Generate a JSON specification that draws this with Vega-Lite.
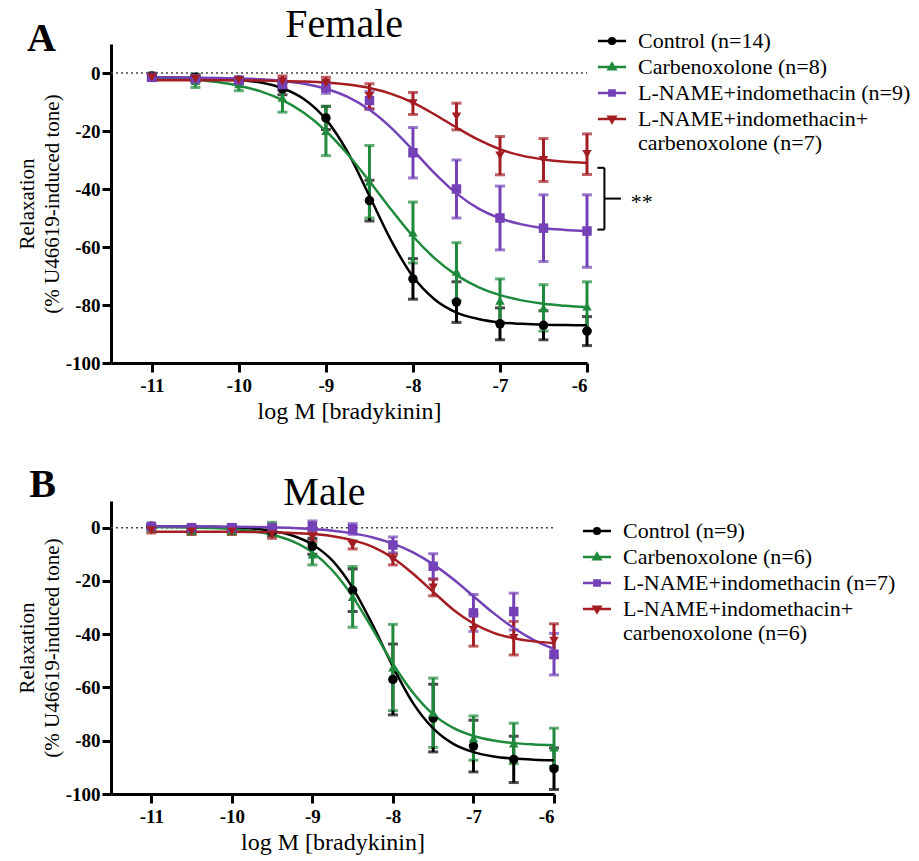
{
  "$schema": "https://vega.github.io/schema/vega-lite/v6.json",
  "padding": {"left": 16, "top": 5, "right": 5, "bottom": 5},
  "datasets": {
    "one": [{"k": 0}],
    "female": [
      {"x": -11, "group": "C", "y": -1.0, "sem": 0.5}, {"x": -10.5, "group": "C", "y": -1.5, "sem": 0.8}, {"x": -10, "group": "C", "y": -2.5, "sem": 1}, {"x": -9.5, "group": "C", "y": -5.5, "sem": 2}, {"x": -9, "group": "C", "y": -15.5, "sem": 4}, {"x": -8.5, "group": "C", "y": -44, "sem": 7}, {"x": -8, "group": "C", "y": -71, "sem": 7}, {"x": -7.5, "group": "C", "y": -79, "sem": 7}, {"x": -7, "group": "C", "y": -86.5, "sem": 5.5}, {"x": -6.5, "group": "C", "y": -87, "sem": 5}, {"x": -6, "group": "C", "y": -89, "sem": 5},
      {"x": -11, "group": "CBX", "y": -1, "sem": 1}, {"x": -10.5, "group": "CBX", "y": -2.7, "sem": 2.3}, {"x": -10, "group": "CBX", "y": -3.8, "sem": 2.3}, {"x": -9.5, "group": "CBX", "y": -8.5, "sem": 5}, {"x": -9, "group": "CBX", "y": -20, "sem": 8.5}, {"x": -8.5, "group": "CBX", "y": -37.5, "sem": 12.5}, {"x": -8, "group": "CBX", "y": -55, "sem": 10.5}, {"x": -7.5, "group": "CBX", "y": -68.5, "sem": 10}, {"x": -7, "group": "CBX", "y": -78.5, "sem": 7.5}, {"x": -6.5, "group": "CBX", "y": -81, "sem": 8}, {"x": -6, "group": "CBX", "y": -80.5, "sem": 8.5},
      {"x": -11, "group": "LI", "y": -1.5, "sem": 1}, {"x": -10.5, "group": "LI", "y": -2, "sem": 1}, {"x": -10, "group": "LI", "y": -2.5, "sem": 1}, {"x": -9.5, "group": "LI", "y": -4, "sem": 2}, {"x": -9, "group": "LI", "y": -5, "sem": 2}, {"x": -8.5, "group": "LI", "y": -9.5, "sem": 3}, {"x": -8, "group": "LI", "y": -27.5, "sem": 8.7}, {"x": -7.5, "group": "LI", "y": -40, "sem": 10}, {"x": -7, "group": "LI", "y": -50, "sem": 11}, {"x": -6.5, "group": "LI", "y": -53.5, "sem": 11.5}, {"x": -6, "group": "LI", "y": -54.5, "sem": 12.5},
      {"x": -11, "group": "LIC", "y": -1.5, "sem": 1}, {"x": -10.5, "group": "LIC", "y": -2, "sem": 1}, {"x": -10, "group": "LIC", "y": -2.5, "sem": 1}, {"x": -9.5, "group": "LIC", "y": -3, "sem": 2}, {"x": -9, "group": "LIC", "y": -3.5, "sem": 2}, {"x": -8.5, "group": "LIC", "y": -8, "sem": 4.3}, {"x": -8, "group": "LIC", "y": -10.5, "sem": 3.8}, {"x": -7.5, "group": "LIC", "y": -15, "sem": 4.6}, {"x": -7, "group": "LIC", "y": -28.5, "sem": 6.6}, {"x": -6.5, "group": "LIC", "y": -30, "sem": 7.4}, {"x": -6, "group": "LIC", "y": -28, "sem": 7}
    ],
    "male": [
      {"x": -11, "group": "C", "y": 0.5, "sem": 0.5}, {"x": -10.5, "group": "C", "y": 0, "sem": 0.5}, {"x": -10, "group": "C", "y": 0, "sem": 1}, {"x": -9.5, "group": "C", "y": -1.5, "sem": 1.5}, {"x": -9, "group": "C", "y": -7, "sem": 3}, {"x": -8.5, "group": "C", "y": -23.5, "sem": 8}, {"x": -8, "group": "C", "y": -57, "sem": 13.3}, {"x": -7.5, "group": "C", "y": -71.5, "sem": 12.7}, {"x": -7, "group": "C", "y": -82, "sem": 9.7}, {"x": -6.5, "group": "C", "y": -87, "sem": 8.7}, {"x": -6, "group": "C", "y": -90.5, "sem": 7.8},
      {"x": -11, "group": "CBX", "y": 0, "sem": 1}, {"x": -10.5, "group": "CBX", "y": -1, "sem": 1.5}, {"x": -10, "group": "CBX", "y": -1, "sem": 1.5}, {"x": -9.5, "group": "CBX", "y": 0, "sem": 2}, {"x": -9, "group": "CBX", "y": -10, "sem": 4}, {"x": -8.5, "group": "CBX", "y": -26, "sem": 11.4}, {"x": -8, "group": "CBX", "y": -52.5, "sem": 16.2}, {"x": -7.5, "group": "CBX", "y": -69.5, "sem": 13}, {"x": -7, "group": "CBX", "y": -79, "sem": 8.3}, {"x": -6.5, "group": "CBX", "y": -81, "sem": 7.6}, {"x": -6, "group": "CBX", "y": -82.5, "sem": 7.2},
      {"x": -11, "group": "LI", "y": 0.5, "sem": 0.5}, {"x": -10.5, "group": "LI", "y": 0, "sem": 0.5}, {"x": -10, "group": "LI", "y": 0, "sem": 0.5}, {"x": -9.5, "group": "LI", "y": 0, "sem": 1}, {"x": -9, "group": "LI", "y": 0.5, "sem": 2}, {"x": -8.5, "group": "LI", "y": -0.5, "sem": 2}, {"x": -8, "group": "LI", "y": -6.5, "sem": 3}, {"x": -7.5, "group": "LI", "y": -14.5, "sem": 4.7}, {"x": -7, "group": "LI", "y": -32, "sem": 6.9}, {"x": -6.5, "group": "LI", "y": -31.5, "sem": 6.9}, {"x": -6, "group": "LI", "y": -47.5, "sem": 7.8},
      {"x": -11, "group": "LIC", "y": -1, "sem": 1}, {"x": -10.5, "group": "LIC", "y": -1.5, "sem": 1}, {"x": -10, "group": "LIC", "y": -1.5, "sem": 1}, {"x": -9.5, "group": "LIC", "y": -2.5, "sem": 1.5}, {"x": -9, "group": "LIC", "y": -3.5, "sem": 1.5}, {"x": -8.5, "group": "LIC", "y": -6.5, "sem": 1.5}, {"x": -8, "group": "LIC", "y": -12, "sem": 2}, {"x": -7.5, "group": "LIC", "y": -22.5, "sem": 3.1}, {"x": -7, "group": "LIC", "y": -38.5, "sem": 6}, {"x": -6.5, "group": "LIC", "y": -41.5, "sem": 6.3}, {"x": -6, "group": "LIC", "y": -42.5, "sem": 6.4}
    ],
    "femaleFit": [
      {"x": -11, "group": "C", "y": -1.54}, {"x": -10.75, "group": "C", "y": -1.59}, {"x": -10.5, "group": "C", "y": -1.7}, {"x": -10.25, "group": "C", "y": -1.91}, {"x": -10, "group": "C", "y": -2.37}, {"x": -9.75, "group": "C", "y": -3.31}, {"x": -9.5, "group": "C", "y": -5.25}, {"x": -9.25, "group": "C", "y": -9.05}, {"x": -9, "group": "C", "y": -16.0}, {"x": -8.75, "group": "C", "y": -27.3}, {"x": -8.5, "group": "C", "y": -42.4}, {"x": -8.25, "group": "C", "y": -57.8}, {"x": -8, "group": "C", "y": -70.2}, {"x": -7.75, "group": "C", "y": -78.1}, {"x": -7.5, "group": "C", "y": -82.6}, {"x": -7.25, "group": "C", "y": -84.8}, {"x": -7, "group": "C", "y": -86.0}, {"x": -6.75, "group": "C", "y": -86.5}, {"x": -6.5, "group": "C", "y": -86.8}, {"x": -6.25, "group": "C", "y": -86.9}, {"x": -6, "group": "C", "y": -87.0},
      {"x": -11, "group": "CBX", "y": -1.49}, {"x": -10.75, "group": "CBX", "y": -1.8}, {"x": -10.5, "group": "CBX", "y": -2.3}, {"x": -10.25, "group": "CBX", "y": -3.1}, {"x": -10, "group": "CBX", "y": -4.37}, {"x": -9.75, "group": "CBX", "y": -6.35}, {"x": -9.5, "group": "CBX", "y": -9.37}, {"x": -9.25, "group": "CBX", "y": -13.8}, {"x": -9, "group": "CBX", "y": -20.0}, {"x": -8.75, "group": "CBX", "y": -28.0}, {"x": -8.5, "group": "CBX", "y": -37.3}, {"x": -8.25, "group": "CBX", "y": -47.1}, {"x": -8, "group": "CBX", "y": -56.3}, {"x": -7.75, "group": "CBX", "y": -63.9}, {"x": -7.5, "group": "CBX", "y": -69.7}, {"x": -7.25, "group": "CBX", "y": -73.8}, {"x": -7, "group": "CBX", "y": -76.6}, {"x": -6.75, "group": "CBX", "y": -78.4}, {"x": -6.5, "group": "CBX", "y": -79.6}, {"x": -6.25, "group": "CBX", "y": -80.3}, {"x": -6, "group": "CBX", "y": -80.8},
      {"x": -11, "group": "LI", "y": -1.53}, {"x": -10.75, "group": "LI", "y": -1.56}, {"x": -10.5, "group": "LI", "y": -1.61}, {"x": -10.25, "group": "LI", "y": -1.7}, {"x": -10, "group": "LI", "y": -1.87}, {"x": -9.75, "group": "LI", "y": -2.18}, {"x": -9.5, "group": "LI", "y": -2.73}, {"x": -9.25, "group": "LI", "y": -3.71}, {"x": -9, "group": "LI", "y": -5.42}, {"x": -8.75, "group": "LI", "y": -8.26}, {"x": -8.5, "group": "LI", "y": -12.7}, {"x": -8.25, "group": "LI", "y": -18.9}, {"x": -8, "group": "LI", "y": -26.6}, {"x": -7.75, "group": "LI", "y": -34.6}, {"x": -7.5, "group": "LI", "y": -41.5}, {"x": -7.25, "group": "LI", "y": -46.7}, {"x": -7, "group": "LI", "y": -50.1}, {"x": -6.75, "group": "LI", "y": -52.2}, {"x": -6.5, "group": "LI", "y": -53.5}, {"x": -6.25, "group": "LI", "y": -54.1}, {"x": -6, "group": "LI", "y": -54.5},
      {"x": -11, "group": "LIC", "y": -2.5}, {"x": -10.75, "group": "LIC", "y": -2.51}, {"x": -10.5, "group": "LIC", "y": -2.52}, {"x": -10.25, "group": "LIC", "y": -2.54}, {"x": -10, "group": "LIC", "y": -2.57}, {"x": -9.75, "group": "LIC", "y": -2.62}, {"x": -9.5, "group": "LIC", "y": -2.73}, {"x": -9.25, "group": "LIC", "y": -2.94}, {"x": -9, "group": "LIC", "y": -3.31}, {"x": -8.75, "group": "LIC", "y": -4.0}, {"x": -8.5, "group": "LIC", "y": -5.19}, {"x": -8.25, "group": "LIC", "y": -7.19}, {"x": -8, "group": "LIC", "y": -10.2}, {"x": -7.75, "group": "LIC", "y": -14.3}, {"x": -7.5, "group": "LIC", "y": -18.8}, {"x": -7.25, "group": "LIC", "y": -23.0}, {"x": -7, "group": "LIC", "y": -26.3}, {"x": -6.75, "group": "LIC", "y": -28.5}, {"x": -6.5, "group": "LIC", "y": -29.8}, {"x": -6.25, "group": "LIC", "y": -30.6}, {"x": -6, "group": "LIC", "y": -31.0}
    ],
    "maleFit": [
      {"x": -11, "group": "C", "y": 0.48}, {"x": -10.75, "group": "C", "y": 0.45}, {"x": -10.5, "group": "C", "y": 0.4}, {"x": -10.25, "group": "C", "y": 0.3}, {"x": -10, "group": "C", "y": 0.09}, {"x": -9.75, "group": "C", "y": -0.35}, {"x": -9.5, "group": "C", "y": -1.22}, {"x": -9.25, "group": "C", "y": -2.97}, {"x": -9, "group": "C", "y": -6.33}, {"x": -8.75, "group": "C", "y": -12.4}, {"x": -8.5, "group": "C", "y": -22.6}, {"x": -8.25, "group": "C", "y": -36.6}, {"x": -8, "group": "C", "y": -52.2}, {"x": -7.75, "group": "C", "y": -65.9}, {"x": -7.5, "group": "C", "y": -75.4}, {"x": -7.25, "group": "C", "y": -81.2}, {"x": -7, "group": "C", "y": -84.3}, {"x": -6.75, "group": "C", "y": -85.9}, {"x": -6.5, "group": "C", "y": -86.7}, {"x": -6.25, "group": "C", "y": -87.1}, {"x": -6, "group": "C", "y": -87.3},
      {"x": -11, "group": "CBX", "y": 0.23}, {"x": -10.75, "group": "CBX", "y": 0.17}, {"x": -10.5, "group": "CBX", "y": 0.06}, {"x": -10.25, "group": "CBX", "y": -0.16}, {"x": -10, "group": "CBX", "y": -0.56}, {"x": -9.75, "group": "CBX", "y": -1.3}, {"x": -9.5, "group": "CBX", "y": -2.65}, {"x": -9.25, "group": "CBX", "y": -5.08}, {"x": -9, "group": "CBX", "y": -9.28}, {"x": -8.75, "group": "CBX", "y": -16.1}, {"x": -8.5, "group": "CBX", "y": -25.9}, {"x": -8.25, "group": "CBX", "y": -38.2}, {"x": -8, "group": "CBX", "y": -51.1}, {"x": -7.75, "group": "CBX", "y": -62.0}, {"x": -7.5, "group": "CBX", "y": -70.1}, {"x": -7.25, "group": "CBX", "y": -75.2}, {"x": -7, "group": "CBX", "y": -78.2}, {"x": -6.75, "group": "CBX", "y": -79.9}, {"x": -6.5, "group": "CBX", "y": -80.9}, {"x": -6.25, "group": "CBX", "y": -81.4}, {"x": -6, "group": "CBX", "y": -81.7},
      {"x": -11, "group": "LI", "y": 0.48}, {"x": -10.75, "group": "LI", "y": 0.47}, {"x": -10.5, "group": "LI", "y": 0.44}, {"x": -10.25, "group": "LI", "y": 0.41}, {"x": -10, "group": "LI", "y": 0.35}, {"x": -9.75, "group": "LI", "y": 0.26}, {"x": -9.5, "group": "LI", "y": 0.11}, {"x": -9.25, "group": "LI", "y": -0.13}, {"x": -9, "group": "LI", "y": -0.53}, {"x": -8.75, "group": "LI", "y": -1.15}, {"x": -8.5, "group": "LI", "y": -2.15}, {"x": -8.25, "group": "LI", "y": -3.68}, {"x": -8, "group": "LI", "y": -6.0}, {"x": -7.75, "group": "LI", "y": -9.3}, {"x": -7.5, "group": "LI", "y": -13.8}, {"x": -7.25, "group": "LI", "y": -19.4}, {"x": -7, "group": "LI", "y": -25.75}, {"x": -6.75, "group": "LI", "y": -32.1}, {"x": -6.5, "group": "LI", "y": -37.7}, {"x": -6.25, "group": "LI", "y": -42.2}, {"x": -6, "group": "LI", "y": -45.5},
      {"x": -11, "group": "LIC", "y": -1.5}, {"x": -10.75, "group": "LIC", "y": -1.51}, {"x": -10.5, "group": "LIC", "y": -1.52}, {"x": -10.25, "group": "LIC", "y": -1.53}, {"x": -10, "group": "LIC", "y": -1.56}, {"x": -9.75, "group": "LIC", "y": -1.63}, {"x": -9.5, "group": "LIC", "y": -1.74}, {"x": -9.25, "group": "LIC", "y": -1.97}, {"x": -9, "group": "LIC", "y": -2.4}, {"x": -8.75, "group": "LIC", "y": -3.2}, {"x": -8.5, "group": "LIC", "y": -4.68}, {"x": -8.25, "group": "LIC", "y": -7.26}, {"x": -8, "group": "LIC", "y": -11.4}, {"x": -7.75, "group": "LIC", "y": -17.3}, {"x": -7.5, "group": "LIC", "y": -24.1}, {"x": -7.25, "group": "LIC", "y": -30.8}, {"x": -7, "group": "LIC", "y": -36.0}, {"x": -6.75, "group": "LIC", "y": -39.5}, {"x": -6.5, "group": "LIC", "y": -41.5}, {"x": -6.25, "group": "LIC", "y": -42.7}, {"x": -6, "group": "LIC", "y": -43.3}
    ]
  },
  "vconcat": [
    {
      "width": 476,
      "height": 319,
      "resolve": {"scale": {"color": "independent", "shape": "independent", "stroke": "independent"}, "legend": {"color": "independent", "shape": "independent", "stroke": "independent"}},
      "layer": [
        {"data": {"name": "female"}, "mark": {"type": "errorbar", "thickness": 3, "ticks": {"size": 10, "thickness": 3}}, "encoding": {
          "x": {"field": "x", "type": "quantitative", "scale": {"domain": [-11.47, -6], "nice": false, "zero": false}, "axis": {"values": [-11, -10, -9, -8, -7, -6], "labelExpr": "datum.value + ''", "title": "log M [bradykinin]", "labelFont": {"expr": "'Liberation Serif'"}, "titleFont": {"expr": "'Liberation Serif'"}}},
          "y": {"field": "y", "type": "quantitative", "scale": {"domain": [-100, 10], "nice": false, "zero": false}, "axis": {"values": [0, -20, -40, -60, -80, -100], "labelExpr": "datum.value + ''", "title": ["Relaxation", "(% U46619-induced tone)"], "labelFont": {"expr": "'Liberation Serif'"}, "titleFont": {"expr": "'Liberation Serif'"}}},
          "yError": {"field": "sem"}, "color": {"field": "group", "type": "nominal", "scale": {"domain": ["C", "CBX", "LI", "LIC"], "range": ["#000000", "#1f8a3c", "#7442b6", "#a31d22"]}, "legend": null}}},
        {"data": {"name": "one"}, "mark": {"type": "rule", "strokeDash": [2, 3], "color": "#444", "strokeWidth": 1.5}, "encoding": {"x": {"datum": -11.47}, "x2": {"datum": -6}, "y": {"datum": 0}}},
        {"data": {"name": "femaleFit"}, "mark": {"type": "line", "interpolate": "monotone", "strokeWidth": 2.5}, "encoding": {"x": {"field": "x", "type": "quantitative"}, "y": {"field": "y", "type": "quantitative"}, "color": {"field": "group", "type": "nominal", "scale": {"domain": ["C", "CBX", "LI", "LIC"], "range": ["#000000", "#1f8a3c", "#7442b6", "#a31d22"]}, "legend": null}}},
        {"data": {"name": "female"}, "mark": {"type": "point", "filled": true, "opacity": 1, "size": 90}, "encoding": {
          "x": {"field": "x", "type": "quantitative"}, "y": {"field": "y", "type": "quantitative"},
          "color": {"field": "group", "type": "nominal", "scale": {"domain": ["C", "CBX", "LI", "LIC"], "range": ["#000000", "#1f8a3c", "#7442b6", "#a31d22"]}, "legend": null},
          "shape": {"field": "group", "type": "nominal", "scale": {"domain": ["C", "CBX", "LI", "LIC"], "range": ["circle", "triangle-up", "square", "triangle-down"]}, "legend": null}}},
        {"data": {"name": "female"}, "transform": [{"filter": "datum.x > 100"}], "mark": {"type": "point", "filled": true, "opacity": 1, "strokeWidth": 2.5}, "encoding": {
          "x": {"field": "x", "type": "quantitative"}, "y": {"field": "y", "type": "quantitative"},
          "color": {"field": "group", "type": "nominal", "scale": {"domain": ["C", "CBX", "LI", "LIC"], "range": ["#000000", "#1f8a3c", "#7442b6", "#a31d22"]}, "legend": {"orient": "none", "legendX": 490, "legendY": -14, "title": null, "labelFont": {"expr": "'Liberation Serif'"}, "labelExpr": "datum.value == 'C' ? 'Control (n=14)' : datum.value == 'CBX' ? 'Carbenoxolone (n=8)' : datum.value == 'LI' ? 'L-NAME+indomethacin (n=9)' : ['L-NAME+indomethacin+', 'carbenoxolone (n=7)']"}},
          "stroke": {"field": "group", "type": "nominal", "scale": {"domain": ["C", "CBX", "LI", "LIC"], "range": ["#000000", "#1f8a3c", "#7442b6", "#a31d22"]}, "legend": {"orient": "none", "legendX": 490, "legendY": -14, "title": null, "labelFont": {"expr": "'Liberation Serif'"}, "labelExpr": "datum.value == 'C' ? 'Control (n=14)' : datum.value == 'CBX' ? 'Carbenoxolone (n=8)' : datum.value == 'LI' ? 'L-NAME+indomethacin (n=9)' : ['L-NAME+indomethacin+', 'carbenoxolone (n=7)']"}},
          "shape": {"field": "group", "type": "nominal", "scale": {"domain": ["C", "CBX", "LI", "LIC"], "range": ["M-1.5,0H1.5M0.3,0A0.3,0.3,0,1,1,-0.3,0A0.3,0.3,0,1,1,0.3,0", "M-1.5,0H1.5M0,-0.36L0.36,0.24L-0.36,0.24Z", "M-1.5,0H1.5M-0.28,-0.28H0.28V0.28H-0.28Z", "M-1.5,0H1.5M0,0.36L0.36,-0.24L-0.36,-0.24Z"]}, "legend": {"orient": "none", "legendX": 490, "legendY": -14, "title": null, "labelFont": {"expr": "'Liberation Serif'"}, "labelExpr": "datum.value == 'C' ? 'Control (n=14)' : datum.value == 'CBX' ? 'Carbenoxolone (n=8)' : datum.value == 'LI' ? 'L-NAME+indomethacin (n=9)' : ['L-NAME+indomethacin+', 'carbenoxolone (n=7)']"}}}},
        {"data": {"name": "one"}, "mark": {"type": "text", "font": "Liberation Serif", "fontSize": 40, "fontWeight": "bold", "align": "center", "baseline": "alphabetic", "color": "black"}, "encoding": {"x": {"datum": -12.27}, "y": {"datum": 7.6}, "text": {"value": "A"}}},
        {"data": {"name": "one"}, "mark": {"type": "text", "font": "Liberation Serif", "fontSize": 40, "align": "center", "baseline": "alphabetic", "color": "black"}, "encoding": {"x": {"datum": -8.79}, "y": {"datum": 12.3}, "text": {"value": "Female"}}},
        {"data": {"name": "one"}, "mark": {"type": "rule", "color": "black", "strokeWidth": 2}, "encoding": {"x": {"datum": -5.88}, "x2": {"datum": -5.8}, "y": {"datum": -32.7}}},
        {"data": {"name": "one"}, "mark": {"type": "rule", "color": "black", "strokeWidth": 2}, "encoding": {"x": {"datum": -5.88}, "x2": {"datum": -5.8}, "y": {"datum": -54}}},
        {"data": {"name": "one"}, "mark": {"type": "rule", "color": "black", "strokeWidth": 2}, "encoding": {"x": {"datum": -5.8}, "y": {"datum": -32.7}, "y2": {"datum": -54}}},
        {"data": {"name": "one"}, "mark": {"type": "rule", "color": "black", "strokeWidth": 2}, "encoding": {"x": {"datum": -5.8}, "x2": {"datum": -5.61}, "y": {"datum": -43.3}}},
        {"data": {"name": "one"}, "mark": {"type": "text", "font": "Liberation Serif", "fontSize": 22, "align": "center", "baseline": "middle", "color": "black"}, "encoding": {"x": {"datum": -5.37}, "y": {"datum": -44.5}, "text": {"value": "**"}}}
      ]
    },
    {
      "width": 443,
      "height": 293,
      "resolve": {"scale": {"color": "independent", "shape": "independent", "stroke": "independent"}, "legend": {"color": "independent", "shape": "independent", "stroke": "independent"}},
      "layer": [
        {"data": {"name": "male"}, "mark": {"type": "errorbar", "thickness": 3, "ticks": {"size": 10, "thickness": 3}}, "encoding": {
          "x": {"field": "x", "type": "quantitative", "scale": {"domain": [-11.5, -6], "nice": false, "zero": false}, "axis": {"values": [-11, -10, -9, -8, -7, -6], "labelExpr": "datum.value + ''", "title": "log M [bradykinin]", "labelFont": {"expr": "'Liberation Serif'"}, "titleFont": {"expr": "'Liberation Serif'"}}},
          "y": {"field": "y", "type": "quantitative", "scale": {"domain": [-100, 10], "nice": false, "zero": false}, "axis": {"values": [0, -20, -40, -60, -80, -100], "labelExpr": "datum.value + ''", "title": ["Relaxation", "(% U46619-induced tone)"], "labelFont": {"expr": "'Liberation Serif'"}, "titleFont": {"expr": "'Liberation Serif'"}}},
          "yError": {"field": "sem"}, "color": {"field": "group", "type": "nominal", "scale": {"domain": ["C", "CBX", "LI", "LIC"], "range": ["#000000", "#1f8a3c", "#7442b6", "#a31d22"]}, "legend": null}}},
        {"data": {"name": "one"}, "mark": {"type": "rule", "strokeDash": [2, 3], "color": "#444", "strokeWidth": 1.5}, "encoding": {"x": {"datum": -11.5}, "x2": {"datum": -6}, "y": {"datum": 0}}},
        {"data": {"name": "maleFit"}, "mark": {"type": "line", "interpolate": "monotone", "strokeWidth": 2.5}, "encoding": {"x": {"field": "x", "type": "quantitative"}, "y": {"field": "y", "type": "quantitative"}, "color": {"field": "group", "type": "nominal", "scale": {"domain": ["C", "CBX", "LI", "LIC"], "range": ["#000000", "#1f8a3c", "#7442b6", "#a31d22"]}, "legend": null}}},
        {"data": {"name": "male"}, "mark": {"type": "point", "filled": true, "opacity": 1, "size": 90}, "encoding": {
          "x": {"field": "x", "type": "quantitative"}, "y": {"field": "y", "type": "quantitative"},
          "color": {"field": "group", "type": "nominal", "scale": {"domain": ["C", "CBX", "LI", "LIC"], "range": ["#000000", "#1f8a3c", "#7442b6", "#a31d22"]}, "legend": null},
          "shape": {"field": "group", "type": "nominal", "scale": {"domain": ["C", "CBX", "LI", "LIC"], "range": ["circle", "triangle-up", "square", "triangle-down"]}, "legend": null}}},
        {"data": {"name": "male"}, "transform": [{"filter": "datum.x > 100"}], "mark": {"type": "point", "filled": true, "opacity": 1, "strokeWidth": 2.5}, "encoding": {
          "x": {"field": "x", "type": "quantitative"}, "y": {"field": "y", "type": "quantitative"},
          "color": {"field": "group", "type": "nominal", "scale": {"domain": ["C", "CBX", "LI", "LIC"], "range": ["#000000", "#1f8a3c", "#7442b6", "#a31d22"]}, "legend": {"orient": "none", "legendX": 475, "legendY": 19, "title": null, "labelFont": {"expr": "'Liberation Serif'"}, "labelExpr": "datum.value == 'C' ? 'Control (n=9)' : datum.value == 'CBX' ? 'Carbenoxolone (n=6)' : datum.value == 'LI' ? 'L-NAME+indomethacin (n=7)' : ['L-NAME+indomethacin+', 'carbenoxolone (n=6)']"}},
          "stroke": {"field": "group", "type": "nominal", "scale": {"domain": ["C", "CBX", "LI", "LIC"], "range": ["#000000", "#1f8a3c", "#7442b6", "#a31d22"]}, "legend": {"orient": "none", "legendX": 475, "legendY": 19, "title": null, "labelFont": {"expr": "'Liberation Serif'"}, "labelExpr": "datum.value == 'C' ? 'Control (n=9)' : datum.value == 'CBX' ? 'Carbenoxolone (n=6)' : datum.value == 'LI' ? 'L-NAME+indomethacin (n=7)' : ['L-NAME+indomethacin+', 'carbenoxolone (n=6)']"}},
          "shape": {"field": "group", "type": "nominal", "scale": {"domain": ["C", "CBX", "LI", "LIC"], "range": ["M-1.5,0H1.5M0.3,0A0.3,0.3,0,1,1,-0.3,0A0.3,0.3,0,1,1,0.3,0", "M-1.5,0H1.5M0,-0.36L0.36,0.24L-0.36,0.24Z", "M-1.5,0H1.5M-0.28,-0.28H0.28V0.28H-0.28Z", "M-1.5,0H1.5M0,0.36L0.36,-0.24L-0.36,-0.24Z"]}, "legend": {"orient": "none", "legendX": 475, "legendY": 19, "title": null, "labelFont": {"expr": "'Liberation Serif'"}, "labelExpr": "datum.value == 'C' ? 'Control (n=9)' : datum.value == 'CBX' ? 'Carbenoxolone (n=6)' : datum.value == 'LI' ? 'L-NAME+indomethacin (n=7)' : ['L-NAME+indomethacin+', 'carbenoxolone (n=6)']"}}}},
        {"data": {"name": "one"}, "mark": {"type": "text", "font": "Liberation Serif", "fontSize": 40, "fontWeight": "bold", "align": "center", "baseline": "alphabetic", "color": "black"}, "encoding": {"x": {"datum": -12.35}, "y": {"datum": 11.5}, "text": {"value": "B"}}},
        {"data": {"name": "one"}, "mark": {"type": "text", "font": "Liberation Serif", "fontSize": 40, "align": "center", "baseline": "alphabetic", "color": "black"}, "encoding": {"x": {"datum": -8.85}, "y": {"datum": 8.5}, "text": {"value": "Male"}}}
      ]
    }
  ],
  "spacing": 42,
  "resolve": {"scale": {"x": "independent", "y": "independent"}},
  "config": {
    "view": {"stroke": null},
    "axis": {"grid": false, "domainColor": "black", "domainWidth": 3, "tickColor": "black", "tickWidth": 3, "tickSize": 9, "labelFontWeight": "bold", "labelFontSize": 19, "labelColor": "black", "titleFontWeight": "normal", "titleColor": "black"},
    "axisX": {"labelPadding": 4, "titlePadding": 4, "titleFontSize": 24},
    "axisY": {"labelPadding": 2, "titlePadding": 3, "titleFontSize": 21, "titleLineHeight": 25},
    "legend": {"labelFontSize": 22, "labelColor": "black", "labelLimit": 400, "symbolSize": 350, "symbolStrokeWidth": 2.5, "rowPadding": 4, "labelOffset": 15, "padding": 0, "symbolOpacity": 1}
  }
}
